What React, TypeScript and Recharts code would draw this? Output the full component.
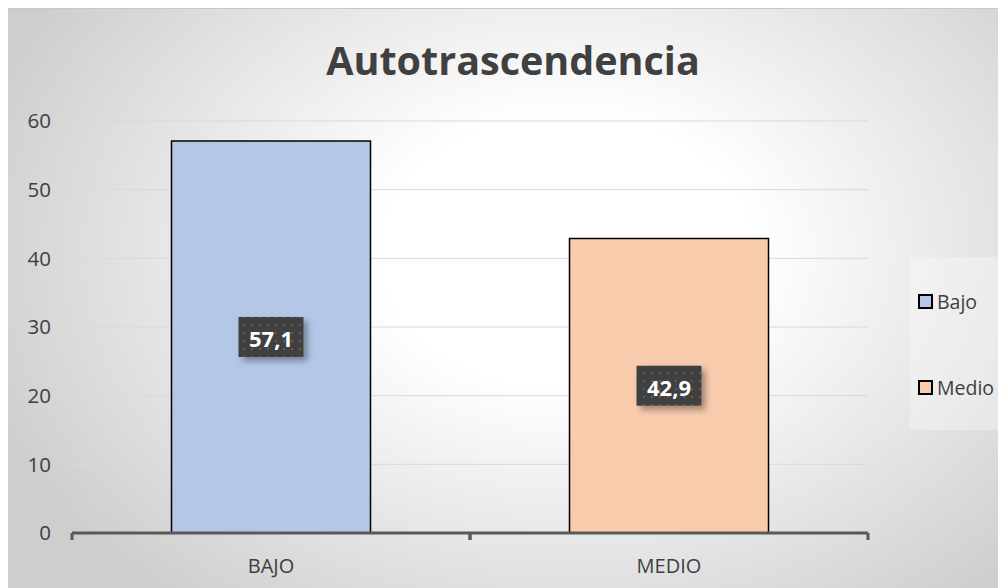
import React from 'react';
import { Bar, BarChart, CartesianGrid, Cell, LabelList, Legend, XAxis, YAxis } from 'recharts';

const categories = ['BAJO', 'MEDIO'];
const values = [57.1, 42.9];
const legendLabels = ['Bajo', 'Medio'];
const barColors = ['#b4c7e7', '#f8cbad'];
const yTicks = [0, 10, 20, 30, 40, 50, 60];

const data = categories.map((c, i) => ({ name: c, value: values[i] }));

const FONT = '"Open Sans", "Noto Sans", sans-serif';
const TEXT = '#404040';

const CategoryTick = (props: any) => {
  const { x, y, payload, width, visibleTicksCount } = props;
  const half = payload.offset ?? width / (2 * visibleTicksCount);
  return (
    <g>
      <line x1={x - half} x2={x - half} y1={y} y2={y + 7} stroke="#595959" strokeWidth={3} />
      <line x1={x + half} x2={x + half} y1={y} y2={y + 7} stroke="#595959" strokeWidth={3} />
      <text
        x={x}
        y={y + 32}
        textAnchor="middle"
        dominantBaseline="central"
        fill={TEXT}
        fontSize={20}
        fontFamily={FONT}
      >
        {payload.value}
      </text>
    </g>
  );
};

const ValueLabel = (props: any) => {
  const { x, y, width, height, value } = props;
  const cx = x + width / 2;
  const cy = y + height / 2;
  const w = 65;
  const h = 40;
  return (
    <g>
      <rect
        x={cx - w / 2}
        y={cy - h / 2}
        width={w}
        height={h}
        fill="url(#dotPattern)"
        filter="url(#labelShadow)"
      />
      <text
        x={cx}
        y={cy + 1}
        textAnchor="middle"
        dominantBaseline="central"
        fill="#ffffff"
        fontSize={22}
        fontWeight="bold"
        fontFamily={FONT}
      >
        {String(value).replace('.', ',')}
      </text>
    </g>
  );
};

const LegendBox = () => (
  <div
    style={{
      width: 96,
      height: 173,
      background: 'rgba(255,255,255,0.3)',
      position: 'relative',
      fontFamily: FONT,
      fontSize: 19.5,
      color: TEXT,
    }}
  >
    {legendLabels.map((l, i) => (
      <div
        key={l}
        style={{
          position: 'absolute',
          left: 8,
          top: 44 + i * 86 - 14,
          height: 28,
          display: 'flex',
          alignItems: 'center',
          whiteSpace: 'nowrap',
        }}
      >
        <span
          style={{
            display: 'inline-block',
            width: 11,
            height: 11,
            border: '2px solid #000',
            background: barColors[i],
            marginRight: 4,
          }}
        />
        <span>{l}</span>
      </div>
    ))}
  </div>
);

export default function App() {
  return (
    <div
      style={{
        position: 'relative',
        width: 998,
        height: 580,
        boxSizing: 'border-box',
        borderTop: '1px solid #c8c8c8',
        background:
          'radial-gradient(ellipse 62% 78% at 56% 42%, #ffffff 30%, #cecece 100%)',
      }}
    >
      <svg width={0} height={0} style={{ position: 'absolute' }}>
        <defs>
          <pattern id="dotPattern" width={8} height={8} patternUnits="userSpaceOnUse">
            <rect width={8} height={8} fill="#404040" />
            <circle cx={4} cy={4} r={1.2} fill="#5a5a5a" />
          </pattern>
          <filter id="labelShadow" x="-20%" y="-20%" width="150%" height="160%">
            <feDropShadow dx={4} dy={4} stdDeviation={3} floodColor="#000" floodOpacity={0.35} />
          </filter>
        </defs>
      </svg>
      <div
        style={{
          position: 'absolute',
          top: 24,
          left: 0,
          width: 1010,
          textAlign: 'center',
          fontFamily: FONT,
          fontWeight: 'bold',
          fontSize: 39.5,
          color: TEXT,
        }}
      >
        Autotrascendencia
      </div>
      <BarChart
        width={998}
        height={580}
        data={data}
        margin={{ top: 112, right: 42, bottom: 0, left: 0 }}
        barCategoryGap="25%"
        style={{ position: 'absolute', top: 0, left: 0 }}
      >
        <CartesianGrid vertical={false} stroke="#d9d9d9" />
        <YAxis
          domain={[0, 60]}
          ticks={yTicks}
          width={64}
          axisLine={false}
          tickLine={false}
          tickSize={0}
          tickMargin={21}
          tick={{ fill: TEXT, fontSize: 20.5, fontFamily: FONT }}
        />
        <XAxis
          dataKey="name"
          height={56}
          axisLine={{ stroke: '#595959', strokeWidth: 3 }}
          tickLine={false}
          tickSize={0}
          tickMargin={0}
          tick={<CategoryTick />}
        />
        <Legend
          layout="vertical"
          align="right"
          verticalAlign="top"
          width={96}
          content={<LegendBox />}
          wrapperStyle={{ top: 248, right: 0, width: 96, height: 173 }}
        />
        <Bar dataKey="value" stroke="#000" strokeWidth={1.5} isAnimationActive={false}>
          {data.map((d, i) => (
            <Cell key={d.name} fill={barColors[i]} />
          ))}
          <LabelList dataKey="value" content={<ValueLabel />} />
        </Bar>
      </BarChart>
    </div>
  );
}
